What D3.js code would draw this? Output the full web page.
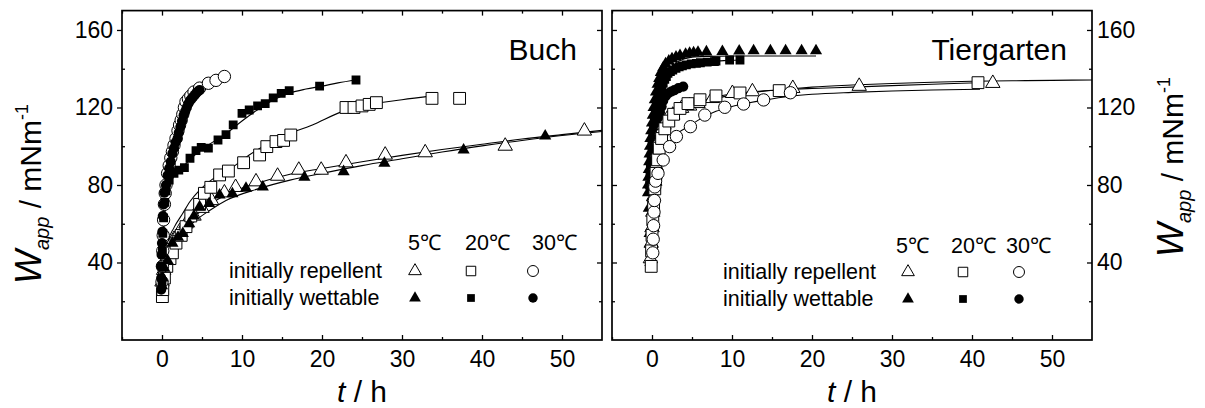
<!DOCTYPE html>
<html>
<head>
<meta charset="utf-8">
<script src="https://cdn.jsdelivr.net/npm/d3@7"></script>
<style>
  body { margin: 0; background: #fff; }
  svg { display: block; font-family: "Liberation Sans", Arial, sans-serif; }
</style>
</head>
<body>
<svg id="chart" width="1205" height="408"></svg>
<script>
// axis ticks
const xMajor = [0, 10, 20, 30, 40, 50];
const xMinor = [-5, 5, 15, 25, 35, 45];
const yMajor = [40, 80, 120, 160];
const yMinor = [20, 60, 100, 140];

// ---- Buch: measured points (t in h, W in mN/m) ----
const buchO5T = [0, 0.2, 0.5, 1, 1.5, 2.2, 3, 4, 5, 6.2, 7.8, 9.2, 11.75, 14.45, 17.1, 19.9, 23, 27.9, 32.9, 42.9, 52.8];
const buchO5W = [30, 36, 42, 48, 52, 56, 60, 64, 68, 72, 76, 78.8, 81.7, 84.6, 87.7, 87.7, 91.5, 95.5, 96.7, 100.1, 107.9];
const buchF5T = [0, 0.1, 0.3, 0.7, 1.3, 2, 2.6, 3.4, 4.0, 4.7, 5.9, 7.2, 8.8, 10.5, 12.6, 17.8, 22.7, 27.8, 37.7, 47.9];
const buchF5W = [28, 32, 37, 41, 50, 53, 55, 60, 64, 68.8, 70.5, 74.8, 75.5, 78.3, 79, 84, 86.9, 91.2, 98, 105.3];
const buchO20T = [0.05, 0.1, 0.3, 0.6, 1.0, 1.3, 1.75, 2.4, 3.0, 3.6, 4.7, 5.3, 6.1, 7.2, 8.3, 10.2, 12.2, 13.1, 14.25, 15.2, 16.1, 23, 24, 25, 25.9, 26.8, 33.75, 37.2];
const buchO20W = [22.4, 26, 32, 38, 42, 45, 50, 54, 58.5, 64, 70, 75.7, 78.8, 85.2, 87.2, 91.5, 95.5, 99.8, 102.4, 103, 105.8, 120, 120, 120.8, 121.6, 122.5, 124.7, 124.7];
const buchF20T = [0, 0, 0.05, 0.1, 0.2, 0.35, 0.5, 0.9, 1.5, 2.1, 2.8, 3.5, 4.25, 4.9, 5.8, 7, 8, 8.9, 10, 10.9, 11.95, 12.9, 13.9, 14.9, 15.9, 19.7, 24.25];
const buchF20W = [30, 38, 46, 55, 63, 71, 77, 82.5, 86, 87.7, 89, 93.8, 97.7, 99.4, 99, 103.2, 106, 111, 117, 118.7, 120.8, 122, 125, 127.3, 128.7, 131, 134.2];
const buchO30T = [0, 0.05, 0.1, 0.15, 0.2, 0.3, 0.4, 0.5, 0.7, 0.9, 1.1, 1.3, 1.5, 1.75, 2.0, 2.2, 2.4, 2.6, 2.8, 3.0, 3.3, 3.6, 4.0, 4.7, 5.8, 6.75, 7.8];
const buchO30W = [30, 38, 46, 54, 62, 70, 75.7, 80, 86, 90, 94, 97.2, 100.5, 104, 108, 111, 113.5, 116.5, 120, 123, 124.5, 126, 128, 130, 132.5, 134, 136];
const buchF30T = [-0.1, -0.1, -0.1, -0.05, 0, 0.05, 0.1, 0.2, 0.3, 0.5, 0.7, 0.9, 1.1, 1.3, 1.5, 1.7, 1.95, 2.1, 2.3, 2.5, 2.7, 2.9, 3.1, 3.3, 3.5, 3.7, 3.9, 4.1, 4.3, 4.5, 4.7];
const buchF30W = [26, 32, 38, 44, 50, 56, 64, 70, 76, 80, 85, 88.6, 92, 96.3, 99, 102, 104, 107, 110, 113, 116, 118, 120, 122, 123.5, 124.5, 125.5, 126.5, 127.5, 128.3, 129];

// ---- Buch: fitted curves ----
const buchFitO5T = [0, 0.5, 1, 2, 3, 4, 6, 8, 12, 16, 20, 25, 30, 35, 40, 45, 50, 55];
const buchFitO5W = [30, 42, 48, 55, 59.5, 63.5, 70, 75, 81, 85.5, 88.5, 92, 95.3, 98.3, 101, 103.7, 106, 108.2];
const buchFitF5T = [0, 0.5, 1, 2, 3, 4, 6, 8, 12, 16, 20, 25, 30, 35, 40, 45, 50, 55];
const buchFitF5W = [28, 40, 46, 52.5, 57, 61, 67, 72, 78, 82.5, 86, 90, 93.5, 97, 100.2, 103, 105.5, 107.6];
const buchFitO20T = [0, 0.3, 0.7, 1.5, 2.6, 3.5, 4.7, 6.75, 8.4, 10.9, 14.7, 18.8, 22.6, 25.1, 30, 33.75];
const buchFitO20W = [22, 35, 50, 58, 65.4, 71.5, 77.4, 84.3, 88, 95.5, 104.5, 111, 118, 120.8, 124, 126];
const buchFitF20T = [0, 0.1, 0.3, 0.6, 1, 1.5, 2.2, 3, 4, 5, 6.5, 8, 10, 12, 14, 16, 18, 20, 22, 24.25];
const buchFitF20W = [30, 45, 62, 73, 80, 84.5, 88, 91, 95, 98.5, 102.5, 106.5, 113, 119, 124, 127.5, 129.5, 131, 132.7, 134.2];
const buchFitO30T = [0, 0.1, 0.3, 0.6, 1, 1.5, 2, 2.5, 3, 3.6, 4.7, 5.8, 6.75, 7.8];
const buchFitO30W = [30, 50, 70, 82, 91, 102, 110, 116.5, 122, 126, 130.5, 132.5, 134.2, 136];

// ---- Tiergarten: measured points ----
const tgO5T = [-0.2, -0.1, 0, 0.1, 0.2, 0.35, 0.5, 0.7, 0.9, 1.2, 1.5, 1.9, 2.6, 3.7, 4.7, 5.75, 7.55, 10.05, 12.55, 17.6, 25.9, 42.6];
const tgO5W = [42, 50, 58, 66, 74, 82, 90, 97, 103, 108, 111, 114, 116.1, 119.6, 120.8, 122.1, 124.7, 127.3, 128.2, 129.9, 131, 132.5];
const tgF5T = [-0.2, -0.3, -0.4, -0.5, -0.5, -0.45, -0.4, -0.35, -0.3, -0.25, -0.2, -0.1, 0, 0.1, 0.2, 0.35, 0.5, 0.7, 0.9, 1.1, 1.4, 1.7, 2.1, 2.5, 3, 3.5, 4.2, 4.7, 5.2, 5.75, 6.8, 8.8, 10.9, 12.7, 14.8, 16.7, 18.7, 20.5];
const tgF5W = [40, 55, 68, 76, 80, 84, 88, 92, 96, 100, 104, 108, 112, 116, 120, 124, 128, 132, 135, 138, 140.5, 142.5, 144, 145.2, 146, 146.8, 147.5, 148, 148.3, 148.5, 148.7, 148.9, 149.1, 149.3, 149.3, 149.3, 149.3, 149.3];
const tgO20T = [-0.1, -0.05, 0, 0.1, 0.2, 0.35, 0.5, 0.7, 0.9, 1.2, 1.6, 2.1, 2.7, 3.5, 4.5, 6, 8, 11, 15.9, 40.75];
const tgO20W = [38, 46, 54, 62, 70, 78, 86, 93, 99, 104, 109, 113, 116.5, 119.5, 122, 124, 126, 127.5, 128.7, 132.8];
const tgF20T = [-0.3, -0.25, -0.2, -0.1, 0, 0.1, 0.2, 0.3, 0.45, 0.55, 0.7, 0.85, 1, 1.2, 1.4, 1.6, 1.8, 2, 2.3, 2.6, 3, 3.4, 3.8, 4.3, 4.9, 5.55, 6.05, 6.9, 7.8, 8, 9.7, 11];
const tgF20W = [80, 85, 90, 95, 100, 105, 110, 114, 117, 120, 123, 125.6, 128, 130, 132.5, 134.5, 136, 137.6, 138.5, 139.3, 140.2, 141, 141.5, 142, 142.5, 142.8, 143.1, 143.4, 143.7, 144, 144.5, 144.5];
const tgO30T = [0.1, 0.15, 0.2, 0.25, 0.3, 0.35, 0.45, 0.75, 1.4, 2.2, 3.05, 4.8, 6.6, 9.1, 11.45, 13.95, 17.3];
const tgO30W = [45, 52, 59, 66, 72, 79, 82, 86, 92.9, 99.8, 105, 110.1, 116.1, 120.1, 121.8, 123.9, 127.6];
const tgF30T = [0.1, 0.15, 0.2, 0.3, 0.4, 0.5, 0.6, 0.7, 0.85, 1, 1.2, 1.4, 1.7, 2, 2.4, 2.8, 3.3, 3.9];
const tgF30W = [80, 85, 90, 96, 101, 105, 108.4, 112, 115, 117.5, 120.5, 123.5, 125.8, 127.3, 128.2, 129, 130, 130.8];

// ---- Tiergarten: fitted curves ----
const tgFitO5T = [-0.2, 0, 0.2, 0.4, 0.7, 1, 1.5, 2, 3, 4, 5, 6, 8, 10, 12.5, 15, 17.6, 20, 25, 30, 35, 40, 45, 50, 55];
const tgFitO5W = [40, 52, 68, 80, 92, 100, 107, 111, 115.5, 118.5, 120.5, 122, 124.5, 126.5, 127.8, 128.8, 129.7, 130.5, 131.6, 132.4, 133, 133.5, 133.8, 134, 134.2];
const tgFitO20T = [-0.1, 0.1, 0.3, 0.6, 1, 1.5, 2, 3, 4, 5, 6, 8, 11, 14, 17, 20, 25, 30, 35, 40.75];
const tgFitO20W = [38, 58, 75, 89, 99, 106, 110.5, 116, 119.5, 121.5, 123, 125.5, 127.5, 128.6, 129.3, 129.8, 130.5, 131.3, 132, 132.8];
const tgFitO30T = [0.1, 0.3, 0.5, 0.8, 1.2, 1.8, 2.5, 3.3, 4.5, 6, 8, 10, 12, 14, 17.3, 20, 25, 30, 35, 41];
const tgFitO30W = [45, 70, 80, 87, 93, 99, 103.5, 107, 110, 114, 118, 120.5, 122.3, 123.8, 125.8, 126.8, 127.8, 128.5, 129, 129.4];
const tgFitF5T = [0, 0.2, 0.5, 1, 1.5, 2, 3, 4, 5, 7, 10, 15, 20.5];
const tgFitF5W = [50, 90, 112, 125, 133, 138, 143, 145, 146, 146.4, 146.6, 146.6, 146.6];
const tgFitF20T = [0, 0.2, 0.5, 1, 1.5, 2, 3, 4, 5, 7, 9, 11];
const tgFitF20W = [50, 88, 112, 125.6, 133, 137.6, 140.2, 141.7, 142.5, 143.5, 144.2, 144.5];

const legendRows = ["initially repellent", "initially wettable"];
const legendTemps = ["5\u2103", "20\u2103", "30\u2103"];

const zip = (ts, ws) => ts.map((t, i) => ({t: t, w: ws[i]}));

const svg = d3.select("#chart");
const yTop = 10.6, yBottom = 340;

const y = d3.scaleLinear().domain([0, 170]).range([yBottom, yTop]);

const sym = {
  tri: d3.symbolTriangle,
  sq: d3.symbolSquare,
  circ: d3.symbolCircle
};
const openSize = {tri: 90, sq: 140, circ: 120};
const fillSize = {tri: 64, sq: 78, circ: 82};

function drawPanel(x0, x1, opts) {
  const x = d3.scaleLinear().domain([-5, 55]).range([x0, x1]);
  const g = svg.append("g");

  const clipId = "clip" + Math.round(x0);
  svg.append("clipPath").attr("id", clipId)
    .append("rect").attr("x", x0).attr("y", yTop).attr("width", x1 - x0).attr("height", yBottom - yTop);

  const plot = g.append("g").attr("clip-path", `url(#${clipId})`);
  const line = d3.line().x(d => x(d.t)).y(d => y(d.w)).curve(d3.curveMonotoneX);

  // fitted curves
  opts.fits.forEach(f => {
    plot.append("path")
      .datum(zip(f[0], f[1]))
      .attr("d", line)
      .attr("fill", "none")
      .attr("stroke", "#000")
      .attr("stroke-width", 1.1);
  });

  const drawOpen = () => opts.open.forEach(s => {
    plot.append("g").selectAll("path")
      .data(zip(s.t, s.w))
      .join("path")
      .attr("transform", d => `translate(${x(d.t)},${y(d.w)})`)
      .attr("d", d3.symbol().type(sym[s.shape]).size(openSize[s.shape]))
      .attr("fill", "#fff")
      .attr("stroke", "#000")
      .attr("stroke-width", 1);
  });
  const drawFilled = () => opts.filled.forEach(s => {
    plot.append("g").selectAll("path")
      .data(zip(s.t, s.w))
      .join("path")
      .attr("transform", d => `translate(${x(d.t)},${y(d.w)})`)
      .attr("d", d3.symbol().type(sym[s.shape]).size(fillSize[s.shape]))
      .attr("fill", "#000");
  });
  if (opts.openOnTop) { drawFilled(); drawOpen(); } else { drawOpen(); drawFilled(); }

  // axes
  g.append("g").attr("transform", `translate(0,${yBottom})`)
    .call(d3.axisBottom(x).tickValues(xMajor).tickSize(-5).tickPadding(11));
  g.append("g").attr("transform", `translate(0,${yBottom})`)
    .call(d3.axisBottom(x).tickValues(xMinor).tickSize(-3).tickFormat(""));
  g.append("g").attr("transform", `translate(0,${yTop})`)
    .call(d3.axisTop(x).tickValues(xMajor).tickSize(-5).tickFormat(""));
  g.append("g").attr("transform", `translate(0,${yTop})`)
    .call(d3.axisTop(x).tickValues(xMinor).tickSize(-3).tickFormat(""));

  const leftMajor = opts.labelSide === "left"
    ? d3.axisLeft(y).tickValues(yMajor).tickSize(5).tickPadding(4)
    : d3.axisLeft(y).tickValues(yMajor).tickSize(-5).tickFormat("");
  g.append("g").attr("transform", `translate(${x0},0)`).call(leftMajor);
  g.append("g").attr("transform", `translate(${x0},0)`)
    .call(d3.axisLeft(y).tickValues(yMinor).tickSize(-3).tickFormat(""));
  const rightMajor = opts.labelSide === "right"
    ? d3.axisRight(y).tickValues(yMajor).tickSize(-5).tickPadding(5)
    : d3.axisRight(y).tickValues(yMajor).tickSize(-5).tickFormat("");
  g.append("g").attr("transform", `translate(${x1},0)`).call(rightMajor);
  g.append("g").attr("transform", `translate(${x1},0)`)
    .call(d3.axisRight(y).tickValues(yMinor).tickSize(-3).tickFormat(""));

  g.selectAll(".domain").remove();
  g.selectAll(".tick line").attr("stroke", "#000").attr("stroke-width", 1.3);
  g.selectAll(".tick text")
    .attr("fill", "#000")
    .style("font-family", "'Liberation Sans', Arial, sans-serif")
    .style("font-size", "23px");

  g.append("rect")
    .attr("x", x0).attr("y", yTop)
    .attr("width", x1 - x0).attr("height", yBottom - yTop)
    .attr("fill", "none").attr("stroke", "#000").attr("stroke-width", 1.7);

  // panel name
  g.append("text")
    .attr("x", x1 - 25).attr("y", 60)
    .attr("text-anchor", "end")
    .style("font-size", "30px")
    .text(opts.name);

  // x title
  const xt = g.append("text")
    .attr("x", (x0 + x1) / 2).attr("y", 402)
    .attr("text-anchor", "middle")
    .style("font-size", "30px");
  xt.append("tspan").style("font-style", "italic").text("t");
  xt.append("tspan").text(" / h");

  // legend
  const L = opts.legend;
  const lg = g.append("g").style("font-size", "21.5px");
  legendTemps.forEach((s, i) => {
    lg.append("text").attr("x", L.head[i]).attr("y", L.yHead).text(s);
  });
  legendRows.forEach((s, i) => {
    lg.append("text").attr("x", L.xText).attr("y", L.yRows[i]).text(s);
  });
  ["tri", "sq", "circ"].forEach((shape, i) => {
    lg.append("path")
      .attr("transform", `translate(${L.sym[i]},${L.yRows[0] - 7})`)
      .attr("d", d3.symbol().type(sym[shape]).size({tri: 70, sq: 90, circ: 95}[shape]))
      .attr("fill", "#fff").attr("stroke", "#000").attr("stroke-width", 1);
    lg.append("path")
      .attr("transform", `translate(${L.sym[i]},${L.yRows[1] - 7})`)
      .attr("d", d3.symbol().type(sym[shape]).size({tri: 60, sq: 60, circ: 70}[shape]))
      .attr("fill", "#000");
  });
}

drawPanel(122, 602, {
  name: "Buch",
  labelSide: "left",
  openOnTop: false,
  fits: [
    [buchFitO5T, buchFitO5W], [buchFitF5T, buchFitF5W],
    [buchFitO20T, buchFitO20W], [buchFitF20T, buchFitF20W],
    [buchFitO30T, buchFitO30W]
  ],
  open: [
    {shape: "tri", t: buchO5T, w: buchO5W},
    {shape: "sq", t: buchO20T, w: buchO20W},
    {shape: "circ", t: buchO30T, w: buchO30W}
  ],
  filled: [
    {shape: "tri", t: buchF5T, w: buchF5W},
    {shape: "sq", t: buchF20T, w: buchF20W},
    {shape: "circ", t: buchF30T, w: buchF30W}
  ],
  legend: {xText: 229, yHead: 250, head: [408, 465, 532], yRows: [278, 305], sym: [415, 471, 533]}
});

drawPanel(612, 1092, {
  name: "Tiergarten",
  labelSide: "right",
  openOnTop: true,
  fits: [
    [tgFitO5T, tgFitO5W], [tgFitO20T, tgFitO20W], [tgFitO30T, tgFitO30W],
    [tgFitF5T, tgFitF5W], [tgFitF20T, tgFitF20W]
  ],
  open: [
    {shape: "tri", t: tgO5T, w: tgO5W},
    {shape: "sq", t: tgO20T, w: tgO20W},
    {shape: "circ", t: tgO30T, w: tgO30W}
  ],
  filled: [
    {shape: "circ", t: tgF30T, w: tgF30W},
    {shape: "sq", t: tgF20T, w: tgF20W},
    {shape: "tri", t: tgF5T, w: tgF5W}
  ],
  legend: {xText: 723, yHead: 253, head: [896, 951, 1006], yRows: [279, 306], sym: [908, 963, 1019]}
});

// y titles
function yTitle(xb, yc) {
  const t = svg.append("text")
    .attr("transform", `translate(${xb},${yc}) rotate(-90)`)
    .attr("text-anchor", "middle")
    .style("font-size", "30px");
  t.append("tspan").style("font-style", "italic").style("font-size", "36px").text("W");
  t.append("tspan").style("font-style", "italic").style("font-size", "20px").attr("dy", 8).text("app");
  t.append("tspan").attr("dy", -8).text(" / mNm");
  t.append("tspan").style("font-size", "18px").attr("dy", -13).text("-1");
}
yTitle(41, 194);
yTitle(1183, 167);
</script>
</body>
</html>
